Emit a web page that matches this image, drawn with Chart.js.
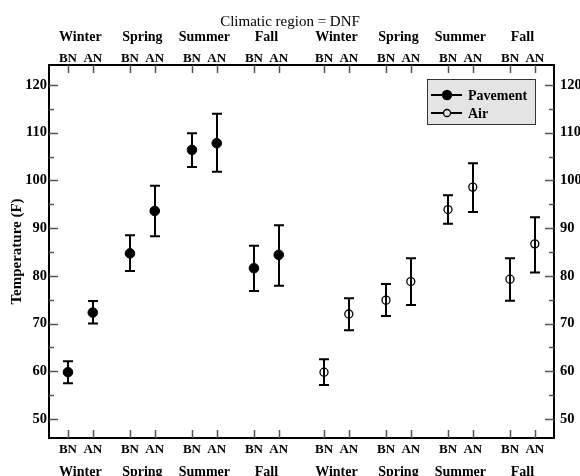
<!DOCTYPE html>
<html>
<head>
<meta charset="utf-8">
<script src="https://cdn.jsdelivr.net/npm/chart.js@4"></script>
<style>
  html, body { margin: 0; padding: 0; background: #fff; }
  #wrap { width: 580px; height: 476px; }
</style>
</head>
<body>
<div id="wrap"><canvas id="myChart"></canvas></div>
<script>
const seasons = ["Winter", "Spring", "Summer", "Fall"];
const periods = ["BN", "AN"];
const yTicks = [50, 60, 70, 80, 90, 100, 110, 120];

// order: Winter BN, Winter AN, Spring BN, Spring AN, Summer BN, Summer AN, Fall BN, Fall AN
const pavementMean = [59.8, 72.3, 84.7, 93.6, 106.4, 107.8, 81.6, 84.4];
const pavementLow = [57.5, 70.0, 81.0, 88.3, 102.8, 101.8, 76.8, 77.9];
const pavementHigh = [62.1, 74.7, 88.5, 98.9, 109.9, 114.0, 86.3, 90.6];

const airMean = [59.8, 72.0, 74.9, 78.8, 93.9, 98.6, 79.3, 86.7];
const airLow = [57.1, 68.6, 71.6, 73.9, 90.9, 93.4, 74.8, 80.7];
const airHigh = [62.5, 75.3, 78.3, 83.7, 96.9, 103.6, 83.7, 92.3];

// x position of a point: set (0 pavement, 1 air), season index, period index
const SET_GAP = 4.13;
const PERIOD_GAP = 0.4;
const posOf = (set, i) => set * SET_GAP + Math.floor(i / 2) + (i % 2) * PERIOD_GAP;
const xPositions = [];
[0, 1].forEach((s) => periods.concat(periods, periods, periods).forEach((p, i) => xPositions.push(posOf(s, i))));

const FONT = "'Liberation Serif', 'DejaVu Serif', serif";
const tickFont = { family: FONT, size: 13, weight: "bold" };
const yFont = { family: FONT, size: 14.5, weight: "bold" };

const ctx = document.getElementById("myChart").getContext("2d");

const errorBars = {
  id: "errorBars",
  beforeDatasetsDraw(chart) {
    const { ctx, scales: { x, y } } = chart;
    ctx.save();
    ctx.strokeStyle = "#000";
    ctx.lineWidth = 2;
    [[pavementLow, pavementHigh], [airLow, airHigh]].forEach(([lo, hi], s) => {
      lo.forEach((v, i) => {
        const px = Math.round(x.getPixelForValue(posOf(s, i)));
        const y1 = y.getPixelForValue(v);
        const y2 = y.getPixelForValue(hi[i]);
        ctx.beginPath();
        ctx.moveTo(px, y1);
        ctx.lineTo(px, y2);
        ctx.moveTo(px - 5, y1);
        ctx.lineTo(px + 5, y1);
        ctx.moveTo(px - 5, y2);
        ctx.lineTo(px + 5, y2);
        ctx.stroke();
      });
    });
    ctx.restore();
  },
};

const decorations = {
  id: "decorations",
  afterDraw(chart) {
    const { ctx, chartArea: { top, bottom, left, right }, scales: { x, y } } = chart;
    ctx.save();
    // inward ticks
    ctx.strokeStyle = "#555";
    ctx.lineWidth = 1.5;
    ctx.beginPath();
    xPositions.forEach((v) => {
      const px = Math.round(x.getPixelForValue(v)) + 0.5;
      ctx.moveTo(px, top);
      ctx.lineTo(px, top + 8);
      ctx.moveTo(px, bottom);
      ctx.lineTo(px, bottom - 8);
    });
    for (let v = 50; v <= 120; v += 5) {
      const py = Math.round(y.getPixelForValue(v)) + 0.5;
      const len = v % 10 === 0 ? 9 : 5;
      ctx.moveTo(left, py);
      ctx.lineTo(left + len, py);
      ctx.moveTo(right, py);
      ctx.lineTo(right - len, py);
    }
    ctx.stroke();

    // season rows
    ctx.fillStyle = "#000";
    ctx.font = "bold 14px " + FONT;
    ctx.textAlign = "center";
    ctx.textBaseline = "alphabetic";
    [0, 1].forEach((s) => {
      seasons.forEach((name, g) => {
        const cx = x.getPixelForValue(s * SET_GAP + g + PERIOD_GAP / 2);
        ctx.fillText(name, cx, top - 24);
        ctx.fillText(name, cx, bottom + 38);
      });
    });

    // title
    ctx.font = "15px " + FONT;
    ctx.fillText("Climatic region = DNF", chart.width / 2, 26);

    // y title
    ctx.save();
    ctx.translate(17, (top + bottom) / 2);
    ctx.rotate(-Math.PI / 2);
    ctx.font = "bold 15px " + FONT;
    ctx.textBaseline = "middle";
    ctx.fillText("Temperature (F)", 0, 0);
    ctx.restore();

    // legend
    const lx = right - 127, ly = top + 14;
    ctx.fillStyle = "#e4e4e4";
    ctx.fillRect(lx, ly, 108, 45);
    ctx.strokeStyle = "#333";
    ctx.lineWidth = 1;
    ctx.strokeRect(lx + 0.5, ly + 0.5, 108, 45);
    [["Pavement", true], ["Air", false]].forEach(([label, filled], k) => {
      const ry = ly + 16 + k * 18;
      ctx.strokeStyle = "#000";
      ctx.lineWidth = 2;
      ctx.beginPath();
      ctx.moveTo(lx + 4, ry);
      ctx.lineTo(lx + 35, ry);
      ctx.stroke();
      ctx.beginPath();
      ctx.arc(lx + 20, ry, filled ? 4.5 : 3.5, 0, Math.PI * 2);
      ctx.fillStyle = filled ? "#000" : "#e4e4e4";
      ctx.fill();
      ctx.lineWidth = 1.3;
      ctx.stroke();
      ctx.fillStyle = "#000";
      ctx.font = "bold 14px " + FONT;
      ctx.textAlign = "left";
      ctx.textBaseline = "middle";
      ctx.fillText(label, lx + 41, ry + 1);
    });
    ctx.restore();
  },
};

const xAxis = (position, height, pad) => ({
  type: "linear",
  position,
  min: -0.306,
  max: 7.84,
  afterBuildTicks: (scale) => { scale.ticks = xPositions.map((v) => ({ value: v })); },
  afterFit: (scale) => { scale.height = height; },
  ticks: {
    autoSkip: false,
    maxRotation: 0,
    padding: pad,
    color: "#000",
    font: tickFont,
    callback: (v, i) => periods[i % 2],
  },
  grid: { display: false, drawTicks: false },
  border: { display: true, color: "#000", width: 2 },
});

const yAxis = (position, width, pad) => ({
  type: "linear",
  position,
  min: 46,
  max: 124.2,
  afterBuildTicks: (scale) => { scale.ticks = yTicks.map((v) => ({ value: v })); },
  afterFit: (scale) => { scale.width = width; },
  ticks: { padding: pad, color: "#000", font: yFont },
  grid: { display: false, drawTicks: false },
  border: { display: true, color: "#000", width: 2 },
});

new Chart(ctx, {
  type: "scatter",
  data: {
    datasets: [
      {
        label: "Pavement",
        data: pavementMean.map((v, i) => ({ x: posOf(0, i), y: v })),
        pointStyle: "circle",
        pointRadius: 4.8,
        pointBackgroundColor: "#000",
        pointBorderColor: "#000",
        pointBorderWidth: 1,
      },
      {
        label: "Air",
        data: airMean.map((v, i) => ({ x: posOf(1, i), y: v })),
        pointStyle: "circle",
        pointRadius: 4,
        pointBackgroundColor: "rgba(0,0,0,0)",
        pointBorderColor: "#000",
        pointBorderWidth: 1.3,
      },
    ],
  },
  options: {
    responsive: true,
    maintainAspectRatio: false,
    animation: false,
    layout: { padding: 0 },
    scales: {
      x: xAxis("bottom", 38, 4),
      x2: xAxis("top", 65, -1),
      y: yAxis("left", 49, 2),
      y2: yAxis("right", 26, 6),
    },
    plugins: {
      legend: { display: false },
      tooltip: { enabled: false },
    },
  },
  plugins: [errorBars, decorations],
});
</script>
</body>
</html>
